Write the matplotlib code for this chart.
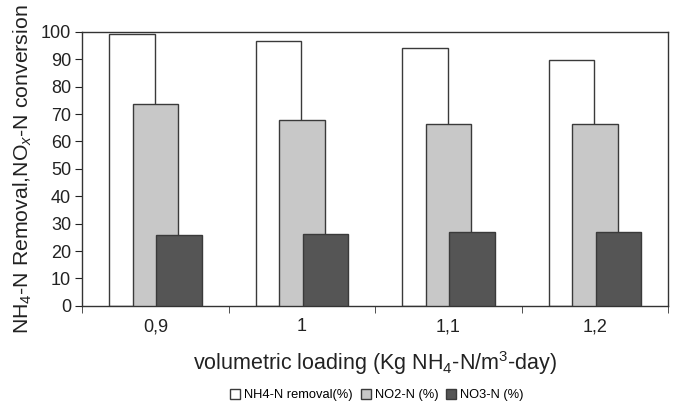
import matplotlib
matplotlib.use("Agg")
import matplotlib.pyplot as plt
import numpy as np

plt.rcParams["font.family"] = ["Liberation Sans", "DejaVu Sans"]
plt.rcParams["mathtext.fontset"] = "custom"
plt.rcParams["mathtext.rm"] = "Liberation Sans"
plt.rcParams["mathtext.it"] = "Liberation Sans:italic"

categories = ["0,9", "1", "1,1", "1,2"]
nh4_removal = [99.2, 96.5, 94.0, 89.8]
no2_n = [73.6, 68.0, 66.4, 66.5]
no3_n = [25.7, 26.3, 26.8, 27.1]
series_names = ["NH4-N removal(%)", "NO2-N (%)", "NO3-N (%)"]

fig = plt.figure(figsize=(6.73, 4.03), dpi=100)
ax = fig.add_axes([0.122, 0.241, 0.871, 0.680])

x = np.arange(len(categories))
w = 0.31
off = 0.16
edge = "#3a3a3a"
ax.bar(x - off, nh4_removal, w, color="white", edgecolor=edge, linewidth=1.0, label=series_names[0], zorder=2)
ax.bar(x, no2_n, w, color="#c8c8c8", edgecolor=edge, linewidth=1.0, label=series_names[1], zorder=3)
ax.bar(x + off, no3_n, w, color="#555555", edgecolor=edge, linewidth=1.0, label=series_names[2], zorder=4)

ax.set_xlim(-0.5, len(categories) - 0.5)
ax.set_ylim(0, 100)
ax.set_yticks(np.arange(0, 101, 10))
ax.set_xticks(x)
ax.set_xticklabels(categories)
ax.set_xticks(np.arange(-0.5, len(categories), 1.0), minor=True)
ax.tick_params(axis="x", which="major", length=0, labelsize=13, pad=9, colors="#222222")
ax.tick_params(axis="x", which="minor", length=5, direction="out", color="#333333")
ax.tick_params(axis="y", length=5, direction="out", labelsize=13, pad=3, colors="#222222")
for s in ax.spines.values():
    s.set_color("#333333")
    s.set_linewidth(1.0)

ax.set_ylabel(r"NH$_4$-N Removal,NO$_x$-N conversion", fontsize=15.3, color="#222222", labelpad=5)
ax.set_xlabel(r"volumetric loading (Kg NH$_4$-N/m$^3$-day)", fontsize=15.5, color="#222222", labelpad=10)

leg = fig.legend(loc="lower center", bbox_to_anchor=(0.56, -0.025), ncol=3, frameon=False,
                 fontsize=9.3, handlelength=0.8, handleheight=0.8, handletextpad=0.3,
                 columnspacing=0.6)

fig.savefig("out.png", dpi=100)
